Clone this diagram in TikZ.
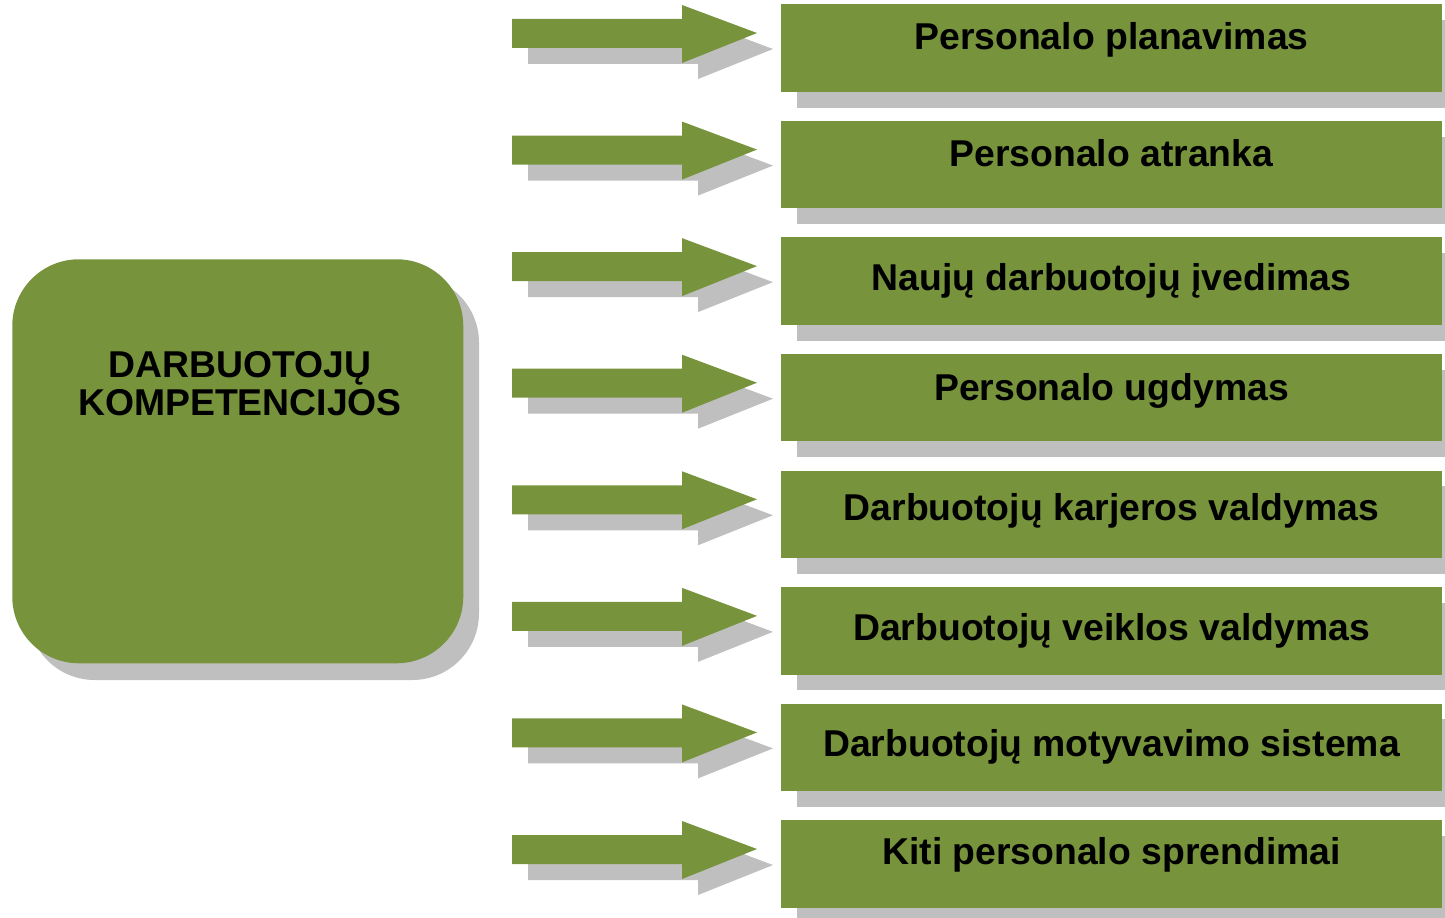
\documentclass[tikz,border=0pt]{standalone}
\usepackage{fontspec}
\setmainfont{Liberation Sans}
\definecolor{olivebox}{RGB}{119,147,60}
\definecolor{shadowgray}{RGB}{191,191,191}

\begin{document}
\begin{tikzpicture}[x=0.75pt,y=0.75pt,yscale=-1,xscale=1,
    areabox/.style={fill=olivebox, draw=none, inner sep=0pt, anchor=north west,
                    minimum width=495.75pt, minimum height=65.6pt},
    areatext/.style={anchor=base, font=\fontsize{28}{28.5}\selectfont\bfseries},
    compbox/.style={fill=olivebox, draw=none, inner sep=0pt, anchor=north west,
                    rounded corners=50pt, minimum width=338.25pt, minimum height=303pt}]
\useasboundingbox (0,0) rectangle (1445,917);

%Rounded box with shadow
\fill [shadowgray, rounded corners=50pt] (28,276) rectangle (479,680);
\node [compbox] (komp) at (12,259) {};
% Text Node
\node [areatext, align=center] (kompt) at (240,415) {DARBUOTOJŲ\\KOMPETENCIJOS};

%Arrows and boxes
\foreach \i/\base/\txt in {0/50/Personalo planavimas,
                           1/166.7/Personalo atranka,
                           2/290/Naujų darbuotojų įvedimas,
                           3/400/Personalo ugdymas,
                           4/520/Darbuotojų karjeros valdymas,
                           5/640/Darbuotojų veiklos valdymas,
                           6/756/Darbuotojų motyvavimo sistema,
                           7/864.7/Kiti personalo sprendimai} {
    \pgfmathsetmacro\t{4+116.57*\i}
    %Block arrow shadow and arrow
    \fill [shadowgray, shift={(16,16)}] (512,\t+15) -- (682,\t+15) -- (682,\t+1) -- (757,\t+29)
          -- (682,\t+59) -- (682,\t+44) -- (512,\t+44) -- cycle;
    \fill [olivebox] (512,\t+15) -- (682,\t+15) -- (682,\t+1) -- (757,\t+29)
          -- (682,\t+59) -- (682,\t+44) -- (512,\t+44) -- cycle;
    %Box shadow and box
    \fill [shadowgray] (797,\t+16) rectangle (1458,\t+103.5);
    \node [areabox] (box\i) at (781,\t) {};
    % Text Node
    \node [areatext] (lbl\i) at (1111.5,\base) {\txt};
}

\end{tikzpicture}
\end{document}
